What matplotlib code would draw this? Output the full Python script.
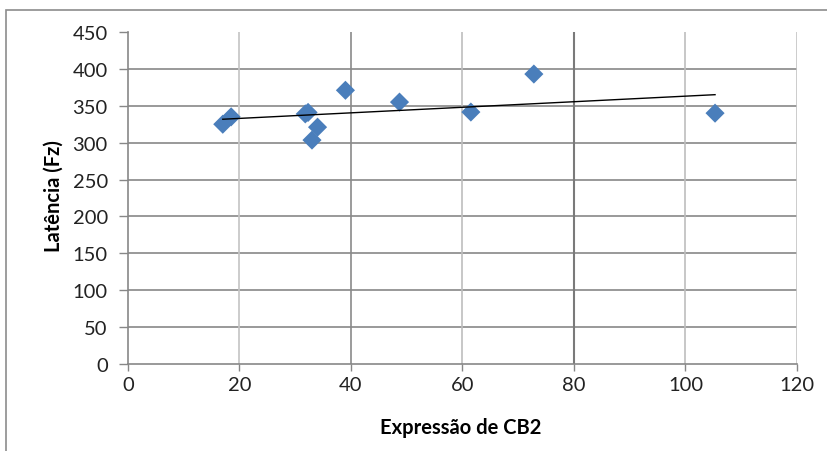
import numpy as np
import matplotlib
matplotlib.use("Agg")
import matplotlib.pyplot as plt
from matplotlib.patches import Rectangle

# Data
expressao_cb2 = [17.0, 18.5, 31.8, 32.3, 34.0, 33.0, 39.0, 48.7, 61.5, 72.8, 105.3]
latencia_fz = [325, 335, 339, 341, 321, 303.5, 371, 355, 341.5, 393, 340]
x_ticks = [0, 20, 40, 60, 80, 100, 120]
y_ticks = [0, 50, 100, 150, 200, 250, 300, 350, 400, 450]

W, H = 828, 452
fig = plt.figure(figsize=(W / 100, H / 100), dpi=100)
fig.patch.set_facecolor("white")

# outer chart border
fig.patches.append(Rectangle((6 / W, -0.1), 1.2, 1 - 11 / H + 0.1, transform=fig.transFigure,
                             fill=False, edgecolor="#8c8c8c", linewidth=1.2))

ax = fig.add_axes([128 / W, 1 - 365 / H, (797 - 128) / W, (365 - 33) / H])
ax.set_xlim(0, 120)
ax.set_ylim(0, 450)

font = "Lato"
tick_col = "#222222"

# gridlines
for y in y_ticks[1:-1]:
    ax.axhline(y, color="#878787", lw=1.2, zorder=0)
vcols = {20: "#c4c4c4", 40: "#8a8a8a", 60: "#bdbdbd", 80: "#7a7a7a", 100: "#bdbdbd", 120: "#c4c4c4"}
vlw = {80: 1.5}
for x in x_ticks[1:]:
    ax.axvline(x, color=vcols[x], lw=vlw.get(x, 1.2), zorder=0)

for s in ["top", "right"]:
    ax.spines[s].set_visible(False)
ax.spines["left"].set_color("#878787")
ax.spines["bottom"].set_color("#878787")
ax.spines["left"].set_linewidth(1.2)
ax.spines["bottom"].set_linewidth(1.2)

ax.set_xticks(x_ticks)
ax.set_yticks(y_ticks)
ax.tick_params(axis="both", colors="#878787", width=1, labelcolor=tick_col, labelsize=14.5)
ax.tick_params(axis="y", length=6.5, pad=8)
ax.tick_params(axis="x", length=5, pad=4)
for lab in ax.get_xticklabels() + ax.get_yticklabels():
    lab.set_fontfamily(font)

ax.scatter(expressao_cb2, latencia_fz, marker="D", s=95, color="#4a7ebb", edgecolors="none", zorder=3)

# linear trendline
m, b = np.polyfit(expressao_cb2, latencia_fz, 1)
xs = np.array([min(expressao_cb2), max(expressao_cb2)])
ax.plot(xs, m * xs + b, color="black", lw=1.0, zorder=4)

fig.text(461 / W, 1 - 428 / H, "Expressão de CB2", ha="center", va="center",
         fontsize=14.5, fontweight="bold", family=font)
fig.text(54 / W, 1 - 196 / H, "Latência (Fz)", ha="center", va="center", rotation=90,
         fontsize=14.5, fontweight="bold", family=font)

fig.savefig("out.png", dpi=100)
